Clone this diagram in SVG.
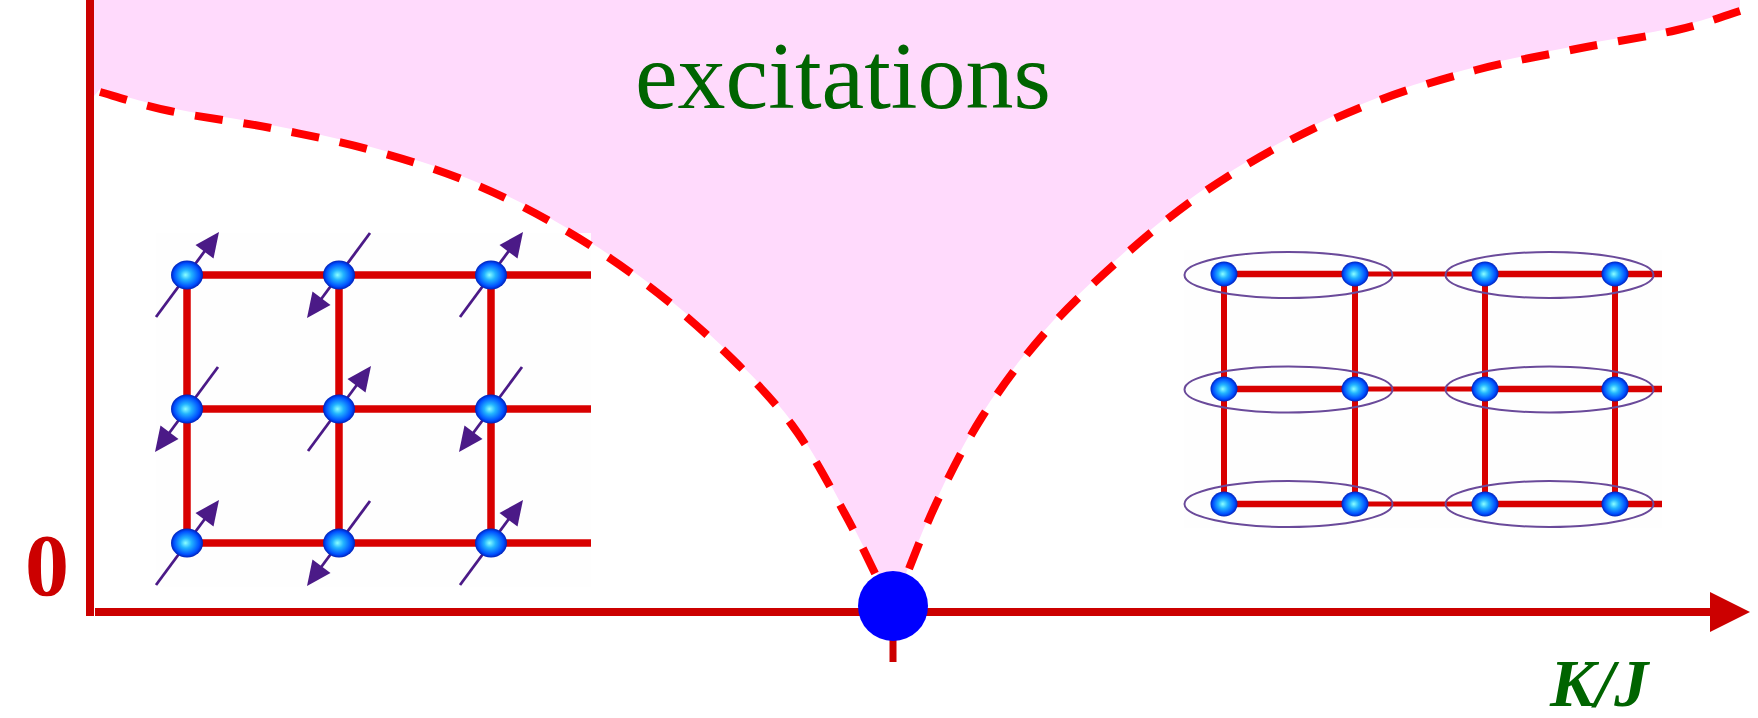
<svg xmlns="http://www.w3.org/2000/svg" width="1758" height="718" viewBox="0 0 1758 718">
  <style>
    .axis { fill: #cc0000; }
    .gap { fill: none; stroke: #ff0000; stroke-width: 8; stroke-dasharray: 28 21; }
    .bond { stroke: #d80000; stroke-linecap: butt; }
    .spin line { stroke: #4b1a87; stroke-width: 2.8; }
    .spin polygon { fill: #4b1a87; }
    .dimer { fill: none; stroke: #6a4a9a; stroke-width: 2; }
    .lbl { font-family: "Liberation Serif", "Times New Roman", serif; fill: #006400; }
  </style>
  <defs>
    <radialGradient id="ball" cx="0.5" cy="0.5" r="0.5" fx="0.45" fy="0.5">
      <stop offset="0" stop-color="#8affff"/>
      <stop offset="0.35" stop-color="#22b4ff"/>
      <stop offset="0.8" stop-color="#0050ff"/>
      <stop offset="1" stop-color="#0020b8"/>
    </radialGradient>
    <!-- spin arrow pointing up-right, centred on a site -->
    <g id="spinUp" class="spin">
      <line x1="-31" y1="42" x2="20" y2="-27"/>
      <polygon points="32,-43 26.5,-16.5 8.5,-30"/>
    </g>
    <g id="spinDown" class="spin">
      <use href="#spinUp" transform="rotate(180)"/>
    </g>
  </defs>

  <rect width="1758" height="718" fill="#ffffff"/>

  <!-- gapped excitation region -->
  <path id="excitation-region" fill="#ffdafc" transform="translate(0,-3)"
        d="M94,0 L94,99 L100,92
           C111.7,95.2 141.5,105 170,111
           C198.5,117 237.5,121.5 271,128
           C304.5,134.5 338,141 371,150
           C404,159 437.5,169.2 469,182
           C500.5,194.8 530.5,210 560,227
           C589.5,244 618.8,263.5 646,284
           C673.2,304.5 698.7,326.5 723,350
           C747.3,373.5 771.7,397.7 792,425
           C812.3,452.3 829.3,485.5 845,514
           C860.7,542.5 879.2,582.3 886,596
           L898,597
           C904.2,581.8 921,536 935,506
           C949,476 963.8,445.7 982,417
           C1000.2,388.3 1021.5,359.8 1044,334
           C1066.5,308.2 1091.5,284.8 1117,262
           C1142.5,239.2 1169,216.8 1197,197
           C1225,177.2 1255,159 1285,143
           C1315,127 1345.2,113.2 1377,101
           C1408.8,88.8 1442.8,78.7 1476,70
           C1509.2,61.3 1542.5,55.7 1576,49
           C1609.5,42.3 1649.7,36.3 1677,30
           C1704.3,23.7 1729.5,14.2 1740,11
           L1740,0 Z"/>

  <!-- Neel antiferromagnet lattice -->
  <g id="neel-lattice">
    <rect x="156" y="233" width="435" height="354" fill="#fefefe"/>
    <g class="bond" stroke-width="7.5">
      <line x1="187" y1="275" x2="591" y2="275"/>
      <line x1="187" y1="409" x2="591" y2="409"/>
      <line x1="187" y1="543" x2="591" y2="543"/>
      <line x1="187" y1="275" x2="187" y2="543"/>
      <line x1="339" y1="275" x2="339" y2="543"/>
      <line x1="491" y1="275" x2="491" y2="543"/>
    </g>
    <use href="#spinUp" x="187" y="275"/>
    <use href="#spinDown" x="339" y="275"/>
    <use href="#spinUp" x="491" y="275"/>
    <use href="#spinDown" x="187" y="409"/>
    <use href="#spinUp" x="339" y="409"/>
    <use href="#spinDown" x="491" y="409"/>
    <use href="#spinUp" x="187" y="543"/>
    <use href="#spinDown" x="339" y="543"/>
    <use href="#spinUp" x="491" y="543"/>
    <g fill="url(#ball)">
      <ellipse cx="187" cy="275" rx="16" ry="14.5"/>
      <ellipse cx="339" cy="275" rx="16" ry="14.5"/>
      <ellipse cx="491" cy="275" rx="16" ry="14.5"/>
      <ellipse cx="187" cy="409" rx="16" ry="14.5"/>
      <ellipse cx="339" cy="409" rx="16" ry="14.5"/>
      <ellipse cx="491" cy="409" rx="16" ry="14.5"/>
      <ellipse cx="187" cy="543" rx="16" ry="14.5"/>
      <ellipse cx="339" cy="543" rx="16" ry="14.5"/>
      <ellipse cx="491" cy="543" rx="16" ry="14.5"/>
    </g>
  </g>

  <!-- dimerised (valence-bond) lattice -->
  <g id="dimer-lattice">
    <rect x="1184" y="250" width="478" height="278" fill="#fefefe"/>
    <g class="bond" stroke-width="5">
      <line x1="1224" y1="274" x2="1662" y2="274"/>
      <line x1="1224" y1="389" x2="1662" y2="389"/>
      <line x1="1224" y1="504" x2="1662" y2="504"/>
    </g>
    <g class="bond" stroke-width="6.5">
      <line x1="1224" y1="274" x2="1355" y2="274"/>
      <line x1="1485" y1="274" x2="1662" y2="274"/>
      <line x1="1224" y1="389" x2="1355" y2="389"/>
      <line x1="1485" y1="389" x2="1662" y2="389"/>
      <line x1="1224" y1="504" x2="1355" y2="504"/>
      <line x1="1485" y1="504" x2="1662" y2="504"/>
    </g>
    <g class="bond" stroke-width="6">
      <line x1="1224" y1="274" x2="1224" y2="504"/>
      <line x1="1355" y1="274" x2="1355" y2="504"/>
      <line x1="1485" y1="274" x2="1485" y2="504"/>
      <line x1="1615" y1="274" x2="1615" y2="504"/>
    </g>
    <g class="dimer">
      <ellipse cx="1288.5" cy="275" rx="104" ry="23"/>
      <ellipse cx="1549.5" cy="275" rx="104" ry="23"/>
      <ellipse cx="1288.5" cy="389.5" rx="104" ry="23"/>
      <ellipse cx="1549.5" cy="389.5" rx="104" ry="23"/>
      <ellipse cx="1288.5" cy="504" rx="104" ry="23"/>
      <ellipse cx="1549.5" cy="504" rx="104" ry="23"/>
    </g>
    <g fill="url(#ball)">
      <ellipse cx="1224" cy="274" rx="13.5" ry="12.5"/>
      <ellipse cx="1355" cy="274" rx="13.5" ry="12.5"/>
      <ellipse cx="1485" cy="274" rx="13.5" ry="12.5"/>
      <ellipse cx="1615" cy="274" rx="13.5" ry="12.5"/>
      <ellipse cx="1224" cy="389" rx="13.5" ry="12.5"/>
      <ellipse cx="1355" cy="389" rx="13.5" ry="12.5"/>
      <ellipse cx="1485" cy="389" rx="13.5" ry="12.5"/>
      <ellipse cx="1615" cy="389" rx="13.5" ry="12.5"/>
      <ellipse cx="1224" cy="504" rx="13.5" ry="12.5"/>
      <ellipse cx="1355" cy="504" rx="13.5" ry="12.5"/>
      <ellipse cx="1485" cy="504" rx="13.5" ry="12.5"/>
      <ellipse cx="1615" cy="504" rx="13.5" ry="12.5"/>
    </g>
  </g>

  <!-- gap boundaries (dashed) -->
  <g id="connectors">
    <path class="gap"
          d="M100,92
             C111.7,95.2 141.5,105 170,111
             C198.5,117 237.5,121.5 271,128
             C304.5,134.5 338,141 371,150
             C404,159 437.5,169.2 469,182
             C500.5,194.8 530.5,210 560,227
             C589.5,244 618.8,263.5 646,284
             C673.2,304.5 698.7,326.5 723,350
             C747.3,373.5 771.7,397.7 792,425
             C812.3,452.3 829.3,485.5 845,514
             C860.7,542.5 879.2,582.3 886,596"/>
    <path class="gap"
          d="M1740,11
             C1729.5,14.2 1704.3,23.7 1677,30
             C1649.7,36.3 1609.5,42.3 1576,49
             C1542.5,55.7 1509.2,61.3 1476,70
             C1442.8,78.7 1408.8,88.8 1377,101
             C1345.2,113.2 1315,127 1285,143
             C1255,159 1225,177.2 1197,197
             C1169,216.8 1142.5,239.2 1117,262
             C1091.5,284.8 1066.5,308.2 1044,334
             C1021.5,359.8 1000.2,388.3 982,417
             C963.8,445.7 949,476 935,506
             C921,536 904.2,581.8 898,597"/>

    <!-- axes -->
    <rect class="axis" x="86" y="0" width="8" height="616"/>
    <rect class="axis" x="95" y="608" width="1617" height="8"/>
    <polygon class="axis" points="1710,592 1750,612 1710,632"/>
    <rect class="axis" x="889.5" y="612" width="7" height="50"/>
  </g>

  <!-- quantum critical point -->
  <g id="critical-point">
    <circle cx="893" cy="606" r="35" fill="#0000ff"/>
  </g>

  <!-- labels -->
  <g id="labels">
    <text class="lbl" x="635" y="108" font-size="96">excitations</text>
    <text x="47" y="595" font-family="'Liberation Serif', 'Times New Roman', serif" font-weight="bold" font-size="88" fill="#cc0000" text-anchor="middle">0</text>
    <text class="lbl" x="1550" y="706" font-size="68" font-weight="bold" font-style="italic">K/J</text>
  </g>
</svg>
